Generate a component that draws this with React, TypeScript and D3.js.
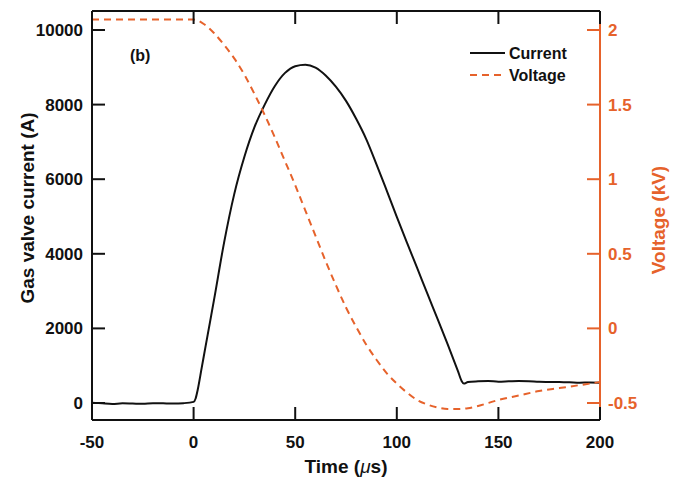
import React from "react";
import * as d3 from "d3";

const currentT = [-50, -45, -40, -35, -30, -25, -20, -15, -10, -5, 0, 1, 2, 4, 6, 8, 10, 15, 20, 25, 30, 35, 40, 45, 50, 55, 60, 65, 70, 75, 80, 85, 90, 95, 100, 105, 110, 115, 120, 125, 130, 132, 133, 135, 140, 145, 150, 155, 160, 165, 170, 175, 180, 185, 190, 195, 200];
const currentA = [10, -10, -25, -10, -15, -20, -5, -10, -15, -5, 30, 120, 350, 950, 1550, 2150, 2750, 4300, 5600, 6600, 7400, 8000, 8500, 8850, 9030, 9070, 8990, 8780, 8480, 8100, 7620, 7070, 6400, 5700, 4990, 4300, 3620, 2940, 2260, 1580, 870, 580, 520, 560, 580, 590, 570, 580, 590, 585, 570, 565, 560, 555, 545, 550, 540];

const voltageT = [-50, -40, -30, -20, -10, -5, 0, 5, 10, 15, 20, 25, 30, 35, 40, 45, 50, 55, 60, 65, 70, 75, 80, 85, 90, 95, 100, 105, 110, 115, 120, 125, 130, 135, 140, 150, 160, 170, 180, 190, 200];
const voltageKV = [2.07, 2.07, 2.07, 2.07, 2.07, 2.07, 2.07, 2.04, 1.98, 1.9, 1.81, 1.7, 1.57, 1.43, 1.28, 1.12, 0.96, 0.79, 0.62, 0.45, 0.29, 0.14, 0.01, -0.11, -0.21, -0.3, -0.37, -0.43, -0.48, -0.51, -0.53, -0.54, -0.54, -0.535, -0.52, -0.48, -0.45, -0.42, -0.4, -0.38, -0.36];

const xTicks = [-50, 0, 50, 100, 150, 200];
const leftTicks = [0, 2000, 4000, 6000, 8000, 10000];
const rightTicks = [-0.5, 0, 0.5, 1, 1.5, 2];
const rightTickLabels = ["-0.5", "0", "0.5", "1", "1.5", "2"];

const ORANGE = "#E6622B";
const FONT = "'Liberation Sans', Arial, sans-serif";

export default function App() {
  const W = 681, H = 479;
  const L = 92, R = 600, T = 11, B = 420;
  const x = d3.scaleLinear().domain([-50, 200]).range([L, R]);
  const yL = d3.scaleLinear().domain([0, 10000]).range([403, 30]);
  const yR = d3.scaleLinear().domain([-0.5, 2]).range([403, 30]);

  const curLine = d3.line<number>().x((_, i) => x(currentT[i])).y((d) => yL(d)).curve(d3.curveMonotoneX);
  const volLine = d3.line<number>().x((_, i) => x(voltageT[i])).y((d) => yR(d)).curve(d3.curveMonotoneX);

  const tl = 13;
  return (
    <svg width={W} height={H} style={{ position: "absolute", left: 0, top: 0, background: "#fff" }} fontFamily={FONT} fontWeight="bold">
      <path d={curLine(currentA) || ""} fill="none" stroke="#111" strokeWidth={2} />
      <path d={volLine(voltageKV) || ""} fill="none" stroke={ORANGE} strokeWidth={2} strokeDasharray="7,5" />
      <line x1={L} x2={L} y1={T} y2={B} stroke="#111" strokeWidth={2} />
      <line x1={L} x2={R} y1={B} y2={B} stroke="#111" strokeWidth={2} />
      <line x1={L} x2={R} y1={T} y2={T} stroke="#111" strokeWidth={2} />
      <line x1={R} x2={R} y1={T} y2={B} stroke={ORANGE} strokeWidth={2} />
      {xTicks.map((t) => (
        <g key={"x" + t}>
          <line x1={x(t)} x2={x(t)} y1={B} y2={B - tl} stroke="#111" strokeWidth={2} />
          <line x1={x(t)} x2={x(t)} y1={T} y2={T + tl} stroke="#111" strokeWidth={2} />
          <text x={x(t)} y={448} textAnchor="middle" fontSize={17} fill="#111">{t}</text>
        </g>
      ))}
      {leftTicks.map((t) => (
        <g key={"l" + t}>
          <line x1={L} x2={L + tl} y1={yL(t)} y2={yL(t)} stroke="#111" strokeWidth={2} />
          <text x={83} y={yL(t) + 6} textAnchor="end" fontSize={17} fill="#111">{t}</text>
        </g>
      ))}
      {rightTicks.map((t, i) => (
        <g key={"r" + t}>
          <line x1={R} x2={R - tl} y1={yR(t)} y2={yR(t)} stroke={ORANGE} strokeWidth={2} />
          <text x={608} y={yR(t) + 6} textAnchor="start" fontSize={17} fill={ORANGE}>{rightTickLabels[i]}</text>
        </g>
      ))}
      <text x={346} y={473} textAnchor="middle" fontSize={19} fill="#111">
        Time (<tspan fontStyle="italic" fontWeight="normal">μ</tspan>s)
      </text>
      <text transform={`translate(34,${208}) rotate(-90)`} textAnchor="middle" fontSize={19} fill="#111">Gas valve current (A)</text>
      <text transform={`translate(665,${220}) rotate(-90)`} textAnchor="middle" fontSize={19} fill={ORANGE}>Voltage (kV)</text>
      <text x={130} y={61} fontSize={16} fill="#111">(b)</text>
      <line x1={470} x2={505} y1={53} y2={53} stroke="#111" strokeWidth={2} />
      <text x={509} y={59} fontSize={16} fill="#111">Current</text>
      <line x1={470} x2={505} y1={75} y2={75} stroke={ORANGE} strokeWidth={2} strokeDasharray="7,5" />
      <text x={509} y={81} fontSize={16} fill="#111">Voltage</text>
    </svg>
  );
}
